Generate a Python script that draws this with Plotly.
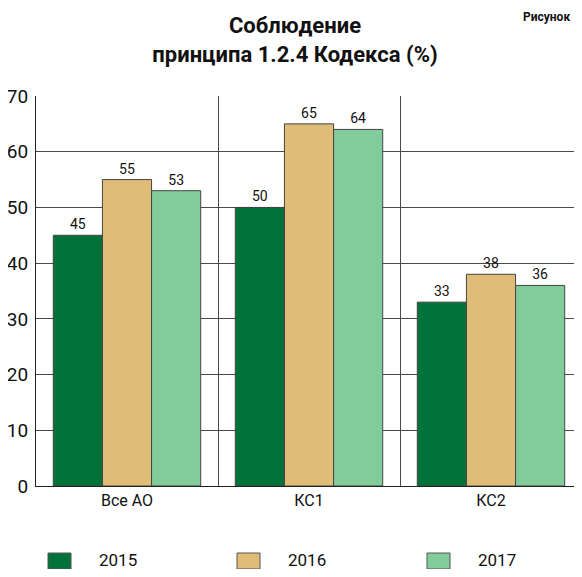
import plotly.graph_objects as go

categories = ["Все АО", "КС1", "КС2"]
years = ["2015", "2016", "2017"]
values_2015 = [45, 50, 33]
values_2016 = [55, 65, 38]
values_2017 = [53, 64, 36]
series = [values_2015, values_2016, values_2017]
colors = ["#01733a", "#dfbc78", "#82cc9c"]
y_ticks = [0, 10, 20, 30, 40, 50, 60, 70]

FONT = "Roboto, Liberation Sans Narrow, sans-serif"
LINE = "#4a4a4a"

fig = go.Figure()
for name, vals, col in zip(years, series, colors):
    fig.add_trace(go.Bar(
        x=categories, y=vals, name=name, showlegend=False,
        marker=dict(color=col, line=dict(color="#444444", width=1)),
        text=[str(v) for v in vals], textposition="outside",
        textfont=dict(size=14, color="#111111", family=FONT),
        cliponaxis=False,
    ))

# the page has an 8px body margin, so the figure is offset by 8px
W, H = 574, 561
ml, mr, mt, mb = 28, 0, 88, 83
pw, ph = W - ml - mr, H - mt - mb

def px_x(p):
    return (p - ml) / pw

def px_y(p):
    return (H - mb - p) / ph

shapes = []
annotations = []
legend_x0 = [40, 229, 419]
for name, col, x0 in zip(years, colors, legend_x0):
    shapes.append(dict(type="rect", xref="paper", yref="paper",
                       x0=px_x(x0), x1=px_x(x0 + 23), y0=px_y(561), y1=px_y(545),
                       fillcolor=col, line=dict(color="#555555", width=1)))
    annotations.append(dict(text=name, xref="paper", yref="paper",
                            x=px_x(x0 + 49), y=px_y(552), xanchor="left", yanchor="middle",
                            showarrow=False, font=dict(size=17, family=FONT, color="#111111")))
annotations.append(dict(text="<b>Рисунок</b>", xref="paper", yref="paper",
                        x=px_x(564), y=px_y(0), xanchor="right", yanchor="top", showarrow=False,
                        font=dict(size=12, family=FONT, color="#111111")))

fig.update_layout(
    width=W, height=H,
    margin=dict(l=ml, r=mr, t=mt, b=mb),
    paper_bgcolor="white", plot_bgcolor="white",
    barmode="group", bargap=0.19, bargroupgap=0,
    font=dict(family=FONT, color="#111111"),
    title=dict(text="<b>Соблюдение<br>принципа 1.2.4 Кодекса (%)</b>",
               x=px_x(287), xref="paper", xanchor="center",
               yref="container", y=1 - 25 / H, yanchor="top",
               font=dict(size=22, family=FONT, color="#111111")),
    showlegend=False,
    shapes=shapes,
    annotations=annotations,
)
fig.update_xaxes(type="category", tickson="boundaries", showgrid=True, gridcolor=LINE,
                 gridwidth=1, showline=True, linecolor="#222222", linewidth=1,
                 ticks="", tickfont=dict(size=16, family=FONT), automargin=False)
fig.update_yaxes(range=[0, 70], tickvals=y_ticks, showgrid=True, gridcolor=LINE,
                 gridwidth=1, showline=True, linecolor="#222222", linewidth=1,
                 ticks="", ticklabelstandoff=3, zeroline=False,
                 tickfont=dict(size=19, family=FONT), mirror=True, automargin=False)

fig.write_html("out.html")
